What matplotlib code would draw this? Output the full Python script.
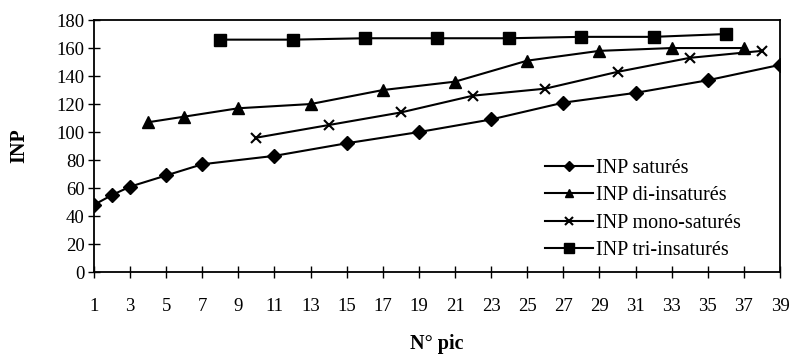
import numpy as np
import matplotlib.pyplot as plt

plt.rcParams['font.family'] = ['Liberation Serif', 'DejaVu Serif']

# données
x_sat = [1, 2, 3, 5, 7, 11, 15, 19, 23, 27, 31, 35, 39]
y_sat = [48, 55, 61, 69, 77, 83, 92, 100, 109, 121, 128, 137, 148]

x_di = [4, 6, 9, 13, 17, 21, 25, 29, 33, 37]
y_di = [107, 111, 117, 120, 130, 136, 151, 158, 160, 160]

x_mono = [10, 14, 18, 22, 26, 30, 34, 38]
y_mono = [96, 105, 114, 126, 131, 143, 153, 158]

x_tri = [8, 12, 16, 20, 24, 28, 32, 36]
y_tri = [166, 166, 167, 167, 167, 168, 168, 170]

xticks = list(range(1, 40, 2))
yticks = list(range(0, 181, 20))

fig = plt.figure(figsize=(7.89, 3.58), dpi=100)
ax = fig.add_axes([0.119, 0.240, 0.8696, 0.704])

ax.plot(x_sat, y_sat, color='black', lw=1.5, marker='D', ms=7, label='INP saturés')
ax.plot(x_di, y_di, color='black', lw=1.5, marker='^', ms=8, label='INP di-insaturés')
ax.plot(x_mono, y_mono, color='black', lw=1.5, marker='x', ms=7.5, mew=1.5, label='INP mono-saturés')
ax.plot(x_tri, y_tri, color='black', lw=1.5, marker='s', ms=8.5, label='INP tri-insaturés')

ax.set_xlim(1, 39)
ax.set_ylim(0, 180)
ax.set_xticks(xticks)
ax.set_yticks(yticks)
ax.tick_params(axis='both', direction='inout', length=9, width=1, labelsize=13.5, colors='black')
ax.tick_params(axis='x', pad=14)
ax.tick_params(axis='y', pad=2)
for s in ax.spines.values():
    s.set_linewidth(1.3)

ax.set_xlabel('N° pic', fontsize=14.5, fontweight='bold', labelpad=14)
ax.set_ylabel('INP', fontsize=14.5, fontweight='bold', labelpad=20)

ax.legend(loc='lower left', bbox_to_anchor=(0.678, 0.245), bbox_transform=fig.transFigure,
          frameon=False, fontsize=14.5, borderpad=0, numpoints=1, markerscale=0.8,
          handlelength=2.4, handletextpad=0.15, labelspacing=0.42)

fig.savefig('out.png', dpi=100)
